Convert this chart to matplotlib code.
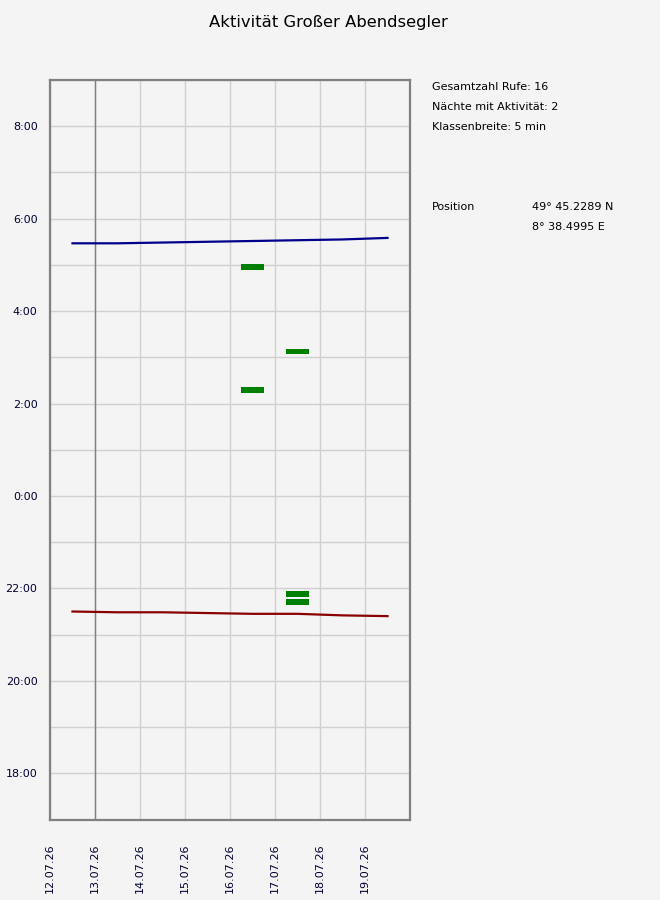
import matplotlib
matplotlib.use("Agg")
import matplotlib.pyplot as plt
import matplotlib.dates as mdates
import pandas as pd

# -----------------------------
# Data
# -----------------------------
days = pd.date_range("2026-07-12", "2026-07-19", freq="D")
sunrise = ["5:28", "5:28", "5:29", "5:30", "5:31", "5:32", "5:33", "5:35"]
sunset = ["21:30", "21:29", "21:29", "21:28", "21:27", "21:27", "21:25", "21:24"]

# activity classes (5 min), start of class
act_days = ["2026-07-16", "2026-07-16", "2026-07-17", "2026-07-17", "2026-07-17"]
act_start = ["4:55", "2:15", "3:05", "21:50", "21:40"]

class_width_min = 5
total_calls = 16
nights_active = 2
lat_text = "49° 45.2289 N"
lon_text = "8° 38.4995 E"
marker_day = "2026-07-13"

y_ticks = [18, 20, 22, 24, 26, 28, 30, 32]


def to_hours(t):
    """Evening times stay as is, morning times are pushed past 24."""
    h, m = t.split(":")
    v = int(h) + int(m) / 60
    return v + 24 if v < 12 else v


# -----------------------------
# Figure
# -----------------------------
bg = "#f4f4f4"
fig = plt.figure(figsize=(6.6, 9), dpi=100, facecolor=bg)
ax = fig.add_axes([50 / 660, 1 - 819.5 / 900, 360 / 660, 739.5 / 900])
ax.set_facecolor(bg)

x0 = mdates.date2num(days[0])
ax.set_xlim(x0, x0 + 8)
ax.set_ylim(17, 33)

# grid
for d in range(9):
    ax.axvline(x0 + d, color="#d0d0d0", lw=1, zorder=0)
for h in range(17, 34):
    ax.axhline(h, color="#d0d0d0", lw=1, zorder=0)
ax.axvline(mdates.date2num(pd.Timestamp(marker_day)), color="#808080", lw=1, zorder=1)

# sunrise / sunset
xs = mdates.date2num(days) + 0.5
ax.plot(xs, [to_hours(t) for t in sunrise], color="#00008b", lw=1.6, zorder=3)
ax.plot(xs, [to_hours(t) for t in sunset], color="#8b0000", lw=1.6, zorder=3)

# activity bars
bar_h = 0.125
for d, t in zip(act_days, act_start):
    xc = mdates.date2num(pd.Timestamp(d)) + 0.5
    yc = to_hours(t) + class_width_min / 120
    ax.bar(xc, bar_h, width=0.5, bottom=yc - bar_h / 2, color="#008000", zorder=4)

# axes styling
for s in ax.spines.values():
    s.set_color("#808080")
    s.set_linewidth(1.6)

ax.set_yticks(y_ticks)
ax.set_yticklabels([f"{h % 24}:00" for h in y_ticks])
ax.set_xticks(mdates.date2num(days))
ax.set_xticklabels([d.strftime("%d.%m.%y") for d in days], rotation=90, va="top", ha="center")
ax.tick_params(axis="both", length=0, labelsize=8, colors="#000033")
ax.tick_params(axis="y", pad=9)
ax.tick_params(axis="x", pad=17)

fig.text(328 / 660, 1 - 22 / 900, "Aktivität Großer Abendsegler",
         ha="center", va="center", fontsize=11.8, color="black")

# info block
info = [
    (432, 87, f"Gesamtzahl Rufe: {total_calls}"),
    (432, 107, f"Nächte mit Aktivität: {nights_active}"),
    (432, 127, f"Klassenbreite: {class_width_min} min"),
    (432, 207, "Position"),
    (532, 207, lat_text),
    (532, 227, lon_text),
]
for x, y, s in info:
    fig.text(x / 660, 1 - y / 900, s, ha="left", va="center", fontsize=8, color="black")

fig.savefig("out.png", dpi=100, facecolor=bg)
